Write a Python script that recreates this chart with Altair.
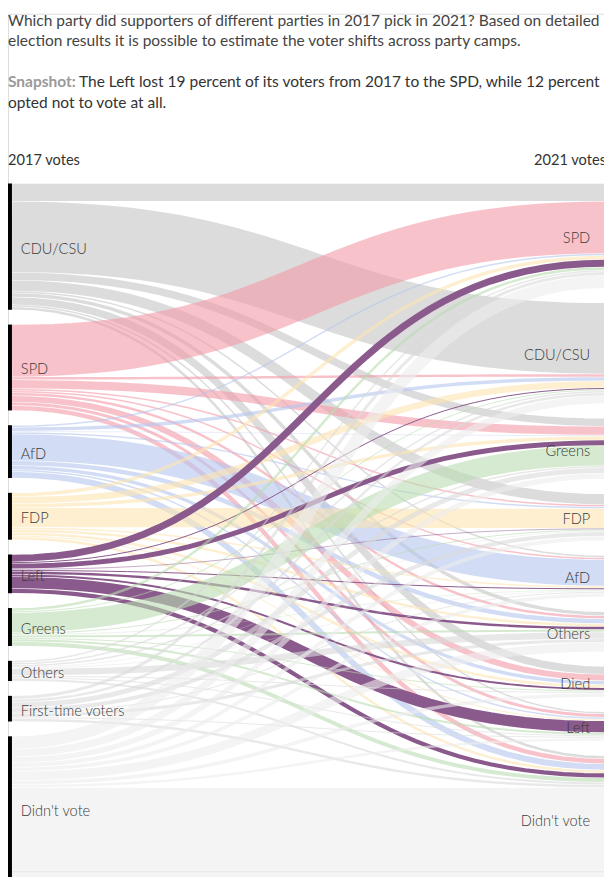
import altair as alt
import pandas as pd
import numpy as np

# ---------------- data ----------------
sources = ["CDU/CSU", "SPD", "AfD", "FDP", "Left", "Greens", "Others",
           "First-time voters", "Didn't vote"]
targets = ["SPD", "CDU/CSU", "Greens", "FDP", "AfD", "Others", "Died",
           "Left", "Didn't vote"]

# estimated voter flows (thousands); each list follows the order of `targets`
cdu_flows     = [2160, 8640, 960, 1320, 240, 480, 960, 240, 360]
spd_flows     = [6360, 360, 1080, 240, 240, 360, 780, 420, 600]
afd_flows     = [240, 480, 120, 240, 3240, 600, 480, 240, 780]
fdp_flows     = [480, 840, 480, 2400, 240, 360, 360, 180, 360]
left_flows    = [900, 180, 660, 120, 180, 360, 300, 1440, 570]
greens_flows  = [360, 180, 2460, 180, 120, 300, 180, 300, 540]
others_flows  = [240, 240, 240, 120, 120, 840, 180, 180, 300]
first_flows   = [420, 360, 660, 540, 180, 420, 0, 180, 360]
nonvote_flows = [1560, 960, 720, 540, 480, 1140, 480, 360, 11520]

flow_rows = [cdu_flows, spd_flows, afd_flows, fdp_flows, left_flows,
             greens_flows, others_flows, first_flows, nonvote_flows]

source_colors = ["#c4c4c4", "#f49aa7", "#b4c6ee", "#fbe4b0", "#8b5a8c",
                 "#b9dcb0", "#d9d9d9", "#dadada", "#ececec"]
source_opacity = [0.6, 0.6, 0.6, 0.6, 1.0, 0.6, 0.6, 0.6, 0.6]

gap = 1800          # space between nodes, same units as flows
units_per_px = 120  # thousand voters per pixel

# ---------------- sankey layout ----------------
n_s, n_t = len(sources), len(targets)
src_tot = [sum(r) for r in flow_rows]
tgt_tot = [sum(flow_rows[i][j] for i in range(n_s)) for j in range(n_t)]

src_top, acc = [], 0
for v in src_tot:
    src_top.append(acc)
    acc += v + gap
tgt_top, acc = [], 0
for v in tgt_tot:
    tgt_top.append(acc)
    acc += v + gap
D = max(sum(src_tot), sum(tgt_tot)) + gap * (n_s - 1)

src_off = src_top[:]
tgt_off = tgt_top[:]
src_pos = {}
for i in range(n_s):
    for j in range(n_t):
        v = flow_rows[i][j]
        src_pos[(i, j)] = src_off[i] + v / 2
        src_off[i] += v
tgt_pos = {}
for j in range(n_t):
    for i in range(n_s):
        v = flow_rows[i][j]
        tgt_pos[(i, j)] = tgt_off[j] + v / 2
        tgt_off[j] += v

ts = np.linspace(0, 1, 41)
rows = []
lid = 0
for i in range(n_s):
    for j in range(n_t):
        v = flow_rows[i][j]
        if v <= 0:
            continue
        ys, yt = src_pos[(i, j)], tgt_pos[(i, j)]
        for t in ts:
            a, b, c, d = (1 - t) ** 3, 3 * (1 - t) ** 2 * t, 3 * (1 - t) * t ** 2, t ** 3
            rows.append({
                "link": lid, "source": sources[i], "target": targets[j],
                "value": v, "t": float(t),
                "x": float(b * 0.5 + c * 0.5 + d),
                "y": float((a + b) * ys + (c + d) * yt),
                "op": source_opacity[i],
            })
        lid += 1
links_df = pd.DataFrame(rows)

left_nodes = pd.DataFrame({
    "name": sources,
    "top": src_top,
    "bottom": [src_top[k] + src_tot[k] for k in range(n_s)],
})
left_nodes["mid"] = (left_nodes["top"] + left_nodes["bottom"]) / 2
right_nodes = pd.DataFrame({
    "name": targets,
    "top": tgt_top,
    "bottom": [tgt_top[k] + tgt_tot[k] for k in range(n_t)],
})
right_nodes["mid"] = (right_nodes["top"] + right_nodes["bottom"]) / 2

# ---------------- chart ----------------
W, H = 604, 869
top_px = 172
FONT = "Lato"
yscale = alt.Scale(domain=[0, D], range=[top_px, top_px + D / units_per_px])
xscale = alt.Scale(domain=[0, 1], range=[4, 606])
maxv = 12000
# link width is the flow's height minus a hairline, leaving thin white seams
sscale = alt.Scale(domain=[60, maxv + 60], range=[0, maxv / units_per_px],
                   zero=False, clamp=True)

links = alt.Chart(links_df).mark_line(strokeCap="butt").encode(
    x=alt.X("x:Q", scale=xscale, axis=None),
    y=alt.Y("y:Q", scale=yscale, axis=None),
    detail="link:N",
    order="t:Q",
    color=alt.Color("source:N", scale=alt.Scale(domain=sources, range=source_colors), legend=None),
    opacity=alt.Opacity("op:Q", scale=None),
    size=alt.Size("value:Q", scale=sscale, legend=None),
)

bars = alt.Chart(left_nodes).mark_rect(color="#000000").encode(
    x=alt.value(0), x2=alt.value(4),
    y=alt.Y("top:Q", scale=yscale, axis=None), y2="bottom:Q",
)

left_labels = alt.Chart(left_nodes).mark_text(
    align="left", baseline="middle", fontSize=14.8, color="#3a3a3a", font=FONT,
    fontWeight=300, dy=3
).encode(x=alt.value(13), y=alt.Y("mid:Q", scale=yscale, axis=None), text="name:N")

right_labels = alt.Chart(right_nodes).mark_text(
    align="right", baseline="middle", fontSize=14.8, color="#3a3a3a", font=FONT,
    fontWeight=300, dy=3
).encode(x=alt.value(590), y=alt.Y("mid:Q", scale=yscale, axis=None), text="name:N")


def txt(s, x, y, size=15.7, color="#444444", weight="normal", align="left"):
    return alt.Chart(pd.DataFrame({"s": [s]})).mark_text(
        align=align, baseline="alphabetic", fontSize=size, color=color,
        fontWeight=weight, font=FONT
    ).encode(x=alt.value(x), y=alt.value(y), text="s:N")


intro1 = "Which party did supporters of different parties in 2017 pick in 2021? Based on detailed"
intro2 = "election results it is possible to estimate the voter shifts across party camps."
snap_label = "Snapshot:"
snap1 = "The Left lost 19 percent of its voters from 2017 to the SPD, while 12 percent"
snap2 = "opted not to vote at all."

texts = alt.layer(
    txt(intro1, 0, 12),
    txt(intro2, 0, 33),
    txt(snap_label, 0, 74, color="#9a9a9a", weight="bold"),
    txt(snap1, 72, 74, color="#333333"),
    txt(snap2, 0, 96, color="#333333"),
    txt("2017 votes", 0, 153, size=14.8, color="#333333"),
    txt("2021 votes", 606, 153, size=14.8, color="#333333", align="right"),
)

chart = alt.layer(links, bars, left_labels, right_labels, texts).properties(
    width=W, height=H, autosize=alt.AutoSizeParams(type="none"), padding=0
).configure_view(stroke=None).configure(background="#ffffff")

chart.save("out.html", embed_options={"renderer": "svg", "actions": False})
